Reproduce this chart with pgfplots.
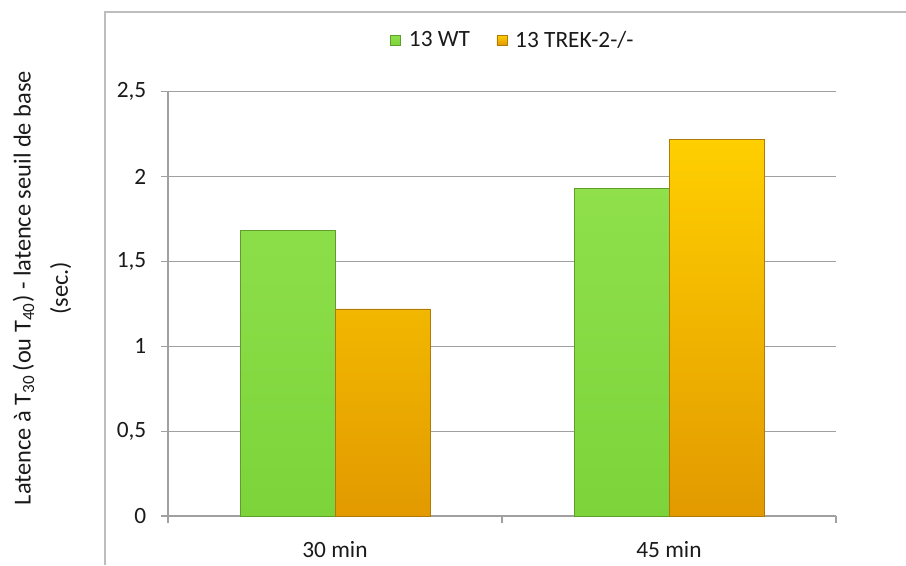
\documentclass[border=0pt]{standalone}
\usepackage{fontspec}
\setmainfont{Carlito}
\usepackage{pgfplots}
\pgfplotsset{compat=1.18}
\definecolor{gtop}{HTML}{8FE04B}
\definecolor{gbot}{HTML}{7CD43A}
\definecolor{gdraw}{HTML}{5E9E2A}
\definecolor{otop}{HTML}{FFCF00}
\definecolor{obot}{HTML}{E29A00}
\definecolor{odraw}{HTML}{B07A08}
\definecolor{axgray}{HTML}{A0A0A0}
\definecolor{frame}{HTML}{BDBDBD}
\definecolor{txt}{HTML}{1A1A1A}
\newcommand{\cf}{\fontsize{17.5}{21}\selectfont}
\newcommand{\lf}{\fontsize{18.3}{22}\selectfont}
\begin{document}
\begin{tikzpicture}[x=0.75pt,y=0.75pt]
\path[use as bounding box] (0,0) rectangle (906,565);
\draw[color=frame, line width=0.9pt] (105,0) -- (105,553) -- (906,553);
\begin{axis}[
  at={(126pt,36.75pt)}, anchor=south west,
  scale only axis, width=501pt, height=318.3pt,
  xmin=-0.5, xmax=1.5, ymin=0, ymax=2.5,
  ybar,
  ytick={0,0.5,1,1.5,2,2.5},
  yticklabels={0,{0,5},1,{1,5},2,{2,5}},
  xtick={0,1}, xticklabels={30 min,45 min},
  minor xtick={-0.5,0.5,1.5},
  ymajorgrids, grid style={color=axgray, line width=0.8pt},
  axis x line*=bottom, axis y line*=left,
  axis line style={-, color=axgray, line width=0.8pt},
  tick align=outside, major tick length=5.25pt, minor tick length=5.25pt,
  tick style={color=axgray, line width=0.8pt},
  every major x tick/.append style={draw=none},
  /pgf/number format/assume math mode=true,
  tick label style={font=\cf, text=txt},
  yticklabel style={xshift=-7.5pt},
  xticklabel style={yshift=-10pt},
  ylabel={Latence à T\textsubscript{30}\,(ou T\textsubscript{40}) - latence seuil de base\\[6pt](sec.)},
  every axis y label/.style={at={(axis description cs:-0.1886,0.537)}, rotate=90, anchor=center, align=center, font=\lf, text=txt},
  legend columns=2,
  legend style={draw=none, fill=none, at={(0.521,1)}, anchor=center, yshift=38.7pt, font=\cf, text=txt,
    /tikz/every even column/.append style={column sep=14pt},
    /tikz/every node/.append style={inner xsep=6pt}},
  legend image code/.code={\draw[#1, line width=0.4pt] (0pt,-3.75pt) rectangle (7.5pt,3.75pt);},
]
\addplot[bar width=0.284, bar shift=-0.142, draw=gdraw, line width=0.5pt, top color=gtop, bottom color=gbot]
  coordinates {(0,1.68) (1,1.93)};
\addplot[bar width=0.284, bar shift=0.142, draw=odraw, line width=0.5pt, top color=otop, bottom color=obot]
  coordinates {(0,1.22) (1,2.22)};
\legend{13 WT, 13 TREK-2-/-}
\end{axis}
\end{tikzpicture}
\end{document}
